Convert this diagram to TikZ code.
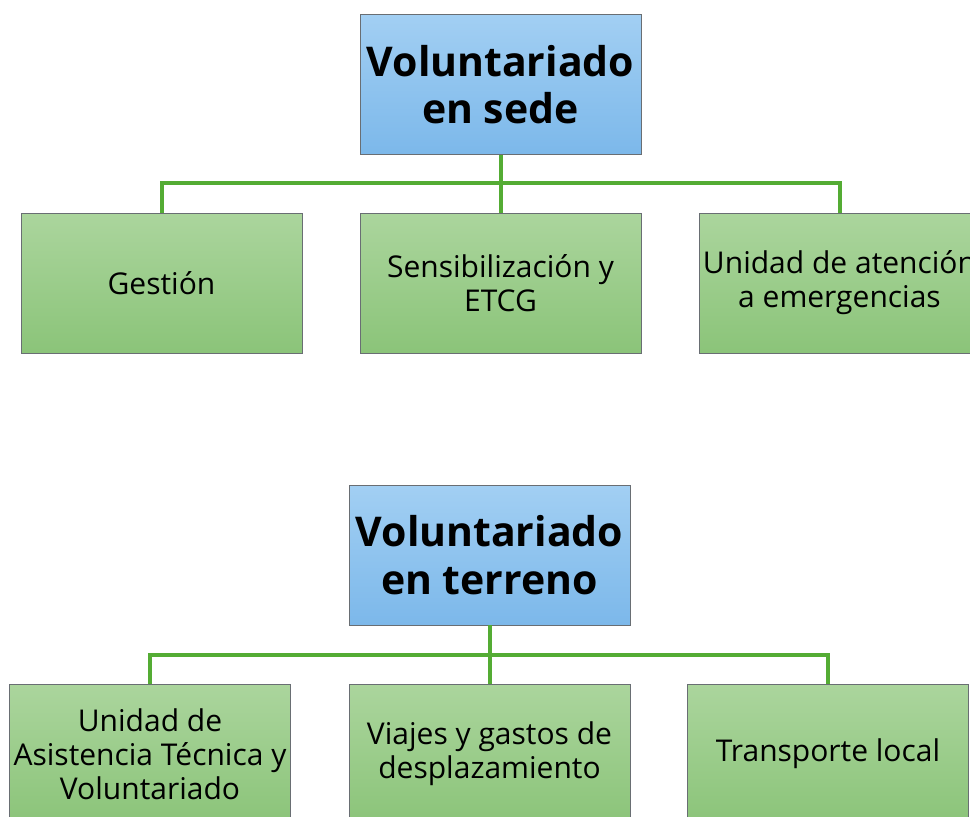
\documentclass[tikz,border=0pt]{standalone}
\usepackage{fontspec}
\setmainfont{Open Sans}
\definecolor{bluetop}{RGB}{162,207,243}
\definecolor{bluebot}{RGB}{124,184,234}
\definecolor{greentop}{RGB}{171,213,157}
\definecolor{greenbot}{RGB}{139,196,121}
\definecolor{bordergray}{RGB}{105,110,115}
\definecolor{conngreen}{RGB}{84,172,52}
\tikzset{
  box/.style={draw=bordergray, line width=0.9pt, minimum width=281pt, minimum height=140pt, inner sep=0pt, align=center},
  head/.style={box, top color=bluetop, bottom color=bluebot, font=\fontsize{41}{47.5}\selectfont\bfseries},
  leaf/.style={box, top color=greentop, bottom color=greenbot, font=\fontsize{30}{34}\selectfont},
  conn/.style={draw=conngreen, line width=4pt}
}
\begin{document}
\begin{tikzpicture}[x=1pt,y=-1pt]
\useasboundingbox (0,0) rectangle (970,817);
\clip (0,0) rectangle (970,817);
% group 1
\node[head] (h1) at (500.5,84.5) {Voluntariado\\en sede};
\node[leaf] (a1) at (161.5,283) {Gestión};
\node[leaf] (a2) at (500.5,283) {Sensibilización y\\ETCG};
\node[leaf] (a3) at (839.5,283) {Unidad de atención\\a emergencias};
\draw[conn] (h1.south) -- ++(0,28.5) -| (a1.north);
\draw[conn] (h1.south) -- (a2.north);
\draw[conn] (h1.south) -- ++(0,28.5) -| (a3.north);
% group 2
\node[head] (h2) at (489.5,555) {Voluntariado\\en terreno};
\node[leaf] (b1) at (150,754) {Unidad de\\Asistencia Técnica y\\Voluntariado};
\node[leaf] (b2) at (489.5,754) {Viajes y gastos de\\desplazamiento};
\node[leaf] (b3) at (828,754) {Transporte local};
\draw[conn] (h2.south) -- ++(0,29.5) -| (b1.north);
\draw[conn] (h2.south) -- (b2.north);
\draw[conn] (h2.south) -- ++(0,29.5) -| (b3.north);
\end{tikzpicture}
\end{document}
